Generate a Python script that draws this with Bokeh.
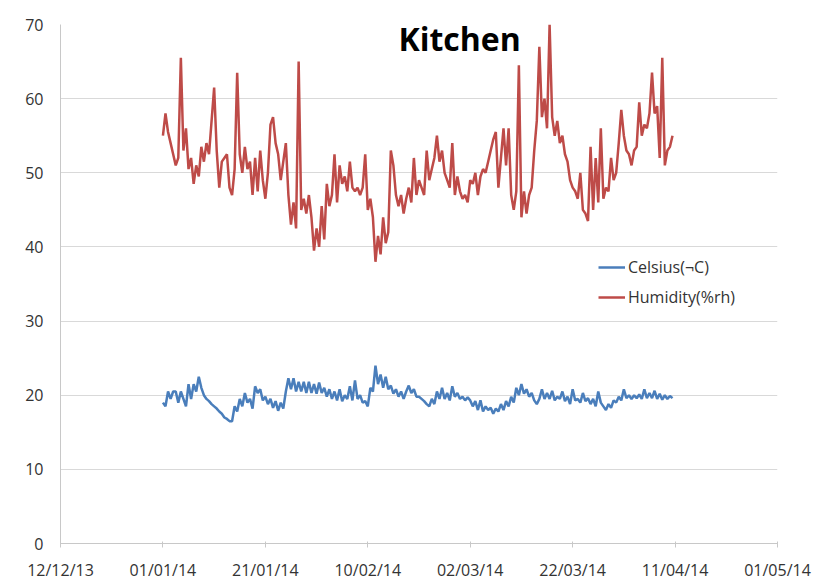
import pandas as pd
from bokeh.plotting import figure
from bokeh.models import FixedTicker, DatetimeTickFormatter, Legend, LegendItem, Label, Range1d
from bokeh.embed import file_html
from bokeh.resources import INLINE

# ---------------- data ----------------
start_time = "2014-01-01 00:00"
step = "12h"

humidity = [
    55, 58, 55.5, 54, 52.5, 51, 52, 65.5, 53, 56,
    50.5, 52, 48.5, 51, 49.5, 53.5, 51.5, 54, 52.5, 57,
    61.5, 53, 48, 51.5, 52, 52.5, 48, 47, 50.5, 63.5,
    52.5, 50, 53.5, 50.5, 51.5, 47, 52, 47.5, 53, 49,
    46.5, 50, 56.5, 57.5, 54, 52.5, 49, 51.5, 54, 47,
    43, 46, 42.5, 65, 45, 46.5, 44.5, 47, 44, 39.5,
    42.5, 40, 45.5, 41, 48.5, 45.5, 47, 52.5, 46, 51,
    48.5, 49.5, 47.5, 51.5, 48, 47.5, 48, 47, 48, 52.5,
    45, 46.5, 44, 38, 41.5, 39, 44, 40.5, 42, 53,
    51, 47, 45.5, 47, 44.5, 46.5, 48, 46, 52, 47,
    49, 48, 47, 53, 49, 50.5, 52, 55, 51.5, 53,
    50, 49, 48, 54, 47, 49.5, 47.5, 46.5, 47, 46,
    49, 48.5, 50, 47, 49.5, 50.5, 50, 51.5, 53, 54.5,
    55.5, 48, 52, 56, 51, 56, 47, 45, 47.5, 64.5,
    44, 47.5, 44.5, 47, 48, 53, 57, 67, 57.5, 60,
    56, 70, 57.5, 55, 57, 54, 55, 52.5, 51.5, 49,
    48, 47.5, 46.5, 50, 45, 44.5, 43.5, 53.5, 45, 52,
    46, 56, 46.5, 48, 47.5, 52, 49, 50, 54, 58.5,
    55, 53, 52.5, 51, 53, 53.5, 59.5, 55, 56.5, 56,
    58, 63.5, 58, 59, 52, 65.5, 51, 53, 53.5, 55,
]

celsius = [
    19, 18.5, 20.5, 19.5, 20.5, 20.5, 19, 20.5, 19.5, 18.5,
    21.5, 19.5, 21.5, 20.5, 22.5, 21, 20, 19.5, 19.2, 18.8,
    18.5, 18.2, 17.8, 17.5, 17, 16.8, 16.5, 16.5, 18.5, 17.8,
    19.5, 18.5, 20.3, 19, 19.5, 18.2, 21.2, 20.3, 20.8, 19.3,
    19.8, 18.8, 19.5, 18.3, 19.2, 17.9, 19, 18.2, 20.5, 22.3,
    20.8, 22.3, 20.5, 21.8, 20.5, 21.8, 20.3, 21.8, 20.3, 21.5,
    20.2, 21.7, 20.3, 21, 19.8, 20.8, 19.5, 20.5, 19.3, 20.8,
    19.2, 20, 19.5, 21.2, 19.3, 22, 19.5, 20, 19, 19.2,
    18.5, 21, 20.5, 24, 21.5, 22.8, 21, 22.5, 20.8, 21.3,
    20.2, 20.8, 19.8, 20.5, 19.5, 20.5, 21.3, 20.3, 20.8, 19.8,
    19.8, 19.5, 19.2, 18.8, 18.5, 19.5, 18.8, 20.5, 19.5, 21,
    19.5, 20.3, 19.3, 21.2, 19.8, 20.3, 19.5, 19.8, 19.3, 19.7,
    19.3, 18.5, 19.2, 18, 19.3, 17.8, 18.5, 18, 18.3, 17.5,
    18.2, 17.8, 18.8, 18, 19.2, 18.5, 19.8, 19, 21, 20,
    21.5, 20.2, 20.8, 19.8, 20.3, 19.3, 18.8, 19.5, 20.8, 19.5,
    20.3, 19.5, 20.6, 19.3, 19.8, 19.5, 20.5, 19.2, 19.8, 18.8,
    20.8, 19.3, 19.5, 19, 20.3, 19.2, 19.6, 18.8, 19.5, 18.5,
    20.5, 19, 18.5, 18, 18.8, 18.3, 19.3, 19, 19.8, 19.3,
    20.8, 19.6, 20, 19.5, 20, 19.6, 20.1, 19.5, 20.8, 19.6,
    20.3, 19.6, 20.6, 19.5, 20.2, 19.4, 20, 19.5, 19.9, 19.6,
]

x_tick_dates = ["2013-12-12", "2014-01-01", "2014-01-21", "2014-02-10",
                "2014-03-02", "2014-03-22", "2014-04-11", "2014-05-01"]
y_ticks = [0, 10, 20, 30, 40, 50, 60, 70]
series_names = ["Celsius(\u00acC)", "Humidity(%rh)"]
title_text = "Kitchen"

# ---------------- plot ----------------
t_h = pd.date_range(start_time, periods=len(humidity), freq=step)
t_c = pd.date_range(start_time, periods=len(celsius), freq=step)

def ms(d):
    return pd.Timestamp(d).value / 1e6

p = figure(width=819, height=583, x_axis_type="datetime",
           x_range=Range1d(ms(x_tick_dates[0]), ms(x_tick_dates[-1])),
           y_range=Range1d(y_ticks[0], y_ticks[-1]),
           output_backend="svg", toolbar_location=None,
           min_border_left=60, min_border_right=42,
           min_border_top=24, min_border_bottom=40)

p.outline_line_color = None
p.background_fill_color = "white"
p.border_fill_color = "white"

p.xgrid.grid_line_color = None
p.ygrid.grid_line_color = "#d9d9d9"
p.ygrid.grid_line_width = 1

p.xaxis.ticker = FixedTicker(ticks=[ms(d) for d in x_tick_dates])
fmt = "%d/%m/%y"
p.xaxis.formatter = DatetimeTickFormatter(days=fmt, months=fmt, years=fmt,
                                          hours=fmt, minutes=fmt, seconds=fmt,
                                          milliseconds=fmt, microseconds=fmt,
                                          hourmin=fmt, minsec=fmt)
p.yaxis.ticker = FixedTicker(ticks=y_ticks)

for ax in (p.xaxis, p.yaxis):
    ax.axis_line_color = "#c8c8c8"
    ax.major_tick_line_color = "#c8c8c8"
    ax.minor_tick_line_color = None
    ax.major_label_text_font = "Open Sans"
    ax.major_label_text_font_size = "16px"
    ax.major_label_text_color = "#333333"

p.xaxis.major_tick_in = 2
p.xaxis.major_tick_out = 4
p.xaxis.major_label_standoff = 11
p.yaxis.major_tick_in = 0
p.yaxis.major_tick_out = 0
p.yaxis.major_label_standoff = 17

r_c = p.line(t_c, celsius, line_color="#4a7ebb", line_width=2.5)
r_h = p.line(t_h, humidity, line_color="#be4b48", line_width=2.5)

legend = Legend(items=[LegendItem(label=series_names[0], renderers=[r_c]),
                       LegendItem(label=series_names[1], renderers=[r_h])],
                location=(538, 235), orientation="vertical",
                glyph_width=27, glyph_height=20, label_height=20,
                label_standoff=3, spacing=8, padding=0, margin=0,
                label_text_font="Open Sans", label_text_font_size="16px",
                label_text_color="#333333",
                border_line_color=None, background_fill_alpha=0)
p.add_layout(legend)

title_label = Label(x=ms("2014-02-27 22:00"), y=68.1, text=title_text,
                    text_font="Open Sans", text_font_size="32px",
                    text_font_style="bold", text_color="black",
                    text_align="center", text_baseline="alphabetic")
p.add_layout(title_label)

open("out.html", "w").write(file_html(p, INLINE))
